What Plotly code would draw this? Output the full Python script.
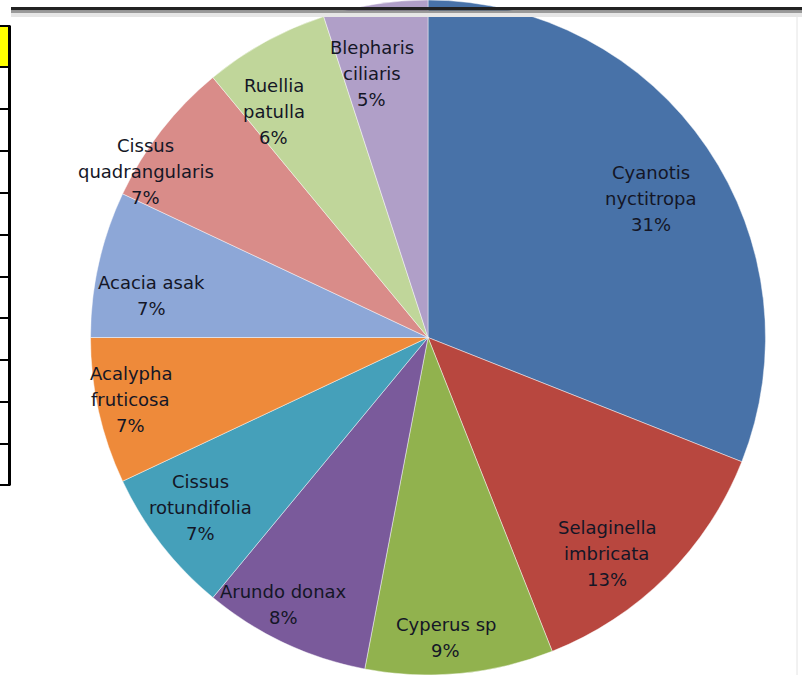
import math
import plotly.graph_objects as go

# Species share of the sampled vegetation
species = [
    "Cyanotis nyctitropa",
    "Selaginella imbricata",
    "Cyperus sp",
    "Arundo donax",
    "Cissus rotundifolia",
    "Acalypha fruticosa",
    "Acacia asak",
    "Cissus quadrangularis",
    "Ruellia patulla",
    "Blepharis ciliaris",
]
shares = [31, 13, 9, 8, 7, 7, 7, 7, 6, 5]

# How each name is broken across lines inside its slice
label_lines = [
    ["Cyanotis", "nyctitropa"],
    ["Selaginella", "imbricata"],
    ["Cyperus sp"],
    ["Arundo donax"],
    ["Cissus", "rotundifolia"],
    ["Acalypha", "fruticosa"],
    ["Acacia asak"],
    ["Cissus", "quadrangularis"],
    ["Ruellia", "patulla"],
    ["Blepharis", "ciliaris"],
]

slice_colors = [
    "#4872A8", "#B8473F", "#91B24E", "#7A5A9B", "#45A0BA",
    "#EE8A3A", "#8DA7D7", "#D98C89", "#C0D69A", "#B09FC8",
]

# Label placement: radius as a fraction of the pie radius, and a small
# angular nudge (degrees) away from the slice's mid-angle
label_radius = [0.78, 0.83, 0.89, 0.90, 0.84, 0.90, 0.83, 0.97, 0.81, 0.80]
label_turn = [2.3, 5.3, 2.0, 3.3, 1.0, 0.8, -3.9, -7.4, -5.5, -3.0]

W, H = 802, 675
cx_px, cy_px = 428.0, H / 2.0
r_px = H / 2.0

fig = go.Figure(
    go.Pie(
        labels=species,
        values=shares,
        sort=False,
        direction="clockwise",
        rotation=0,
        textinfo="none",
        hoverinfo="label+percent",
        marker=dict(colors=slice_colors, line=dict(color="rgba(255,255,255,0.45)", width=1)),
        domain=dict(x=[(cx_px - r_px) / W, (cx_px + r_px) / W], y=[0, 1]),
        showlegend=False,
    )
)

total = sum(shares)
annotations = []
cum = 0.0
line_gap = 26
for name_lines, v, frac, turn in zip(label_lines, shares, label_radius, label_turn):
    mid = (cum + v / 2.0) / total * 2 * math.pi + math.radians(turn)
    cum += v
    x_px = cx_px + frac * r_px * math.sin(mid)
    y_px = cy_px - frac * r_px * math.cos(mid)
    lines = name_lines + [f"{round(v / total * 100)}%"]
    n = len(lines)
    for i, txt in enumerate(lines):
        annotations.append(
            dict(
                x=x_px / W,
                y=1 - y_px / H,
                xref="paper",
                yref="paper",
                text=txt,
                showarrow=False,
                xanchor="center",
                yanchor="middle",
                yshift=-(i - (n - 1) / 2.0) * line_gap,
                font=dict(family="DejaVu Sans", size=18, color="#141626"),
            )
        )

shapes = []
# dark rule along the top edge with its soft shadow
shapes.append(dict(type="rect", xref="paper", yref="paper", x0=11 / W, x1=1, y0=1 - 7 / H, y1=1 - 10.5 / H,
                   fillcolor="#222222", line=dict(width=0), layer="above"))
shapes.append(dict(type="rect", xref="paper", yref="paper", x0=11 / W, x1=1, y0=1 - 10.5 / H, y1=1 - 13 / H,
                   fillcolor="#9a9a9a", line=dict(width=0), layer="above"))
shapes.append(dict(type="rect", xref="paper", yref="paper", x0=11 / W, x1=1, y0=1 - 13 / H, y1=1 - 17 / H,
                   fillcolor="#e6e6e6", line=dict(width=0), layer="above"))
# faint right border
shapes.append(dict(type="line", xref="paper", yref="paper", x0=797 / W, x1=797 / W, y0=0, y1=1 - 14 / H,
                   line=dict(color="#e4e4e4", width=1), layer="below"))

# spreadsheet cells at the left edge
rows = [26, 67, 109, 151, 193, 235, 277, 318, 360, 402, 444, 485]
shapes.append(dict(type="rect", xref="paper", yref="paper", x0=0, x1=9 / W, y0=1 - rows[0] / H, y1=1 - rows[1] / H,
                   fillcolor="#FFFF00", line=dict(width=0), layer="above"))
for yr in rows:
    shapes.append(dict(type="line", xref="paper", yref="paper", x0=0, x1=10.5 / W, y0=1 - yr / H, y1=1 - yr / H,
                       line=dict(color="#000000", width=2), layer="above"))
shapes.append(dict(type="line", xref="paper", yref="paper", x0=9.5 / W, x1=9.5 / W, y0=1 - rows[0] / H,
                   y1=1 - rows[-1] / H, line=dict(color="#000000", width=3), layer="above"))

fig.update_layout(
    width=W,
    height=H,
    margin=dict(l=0, r=0, t=0, b=0),
    paper_bgcolor="#ffffff",
    plot_bgcolor="#ffffff",
    annotations=annotations,
    shapes=shapes,
)

fig.write_html("out.html")
